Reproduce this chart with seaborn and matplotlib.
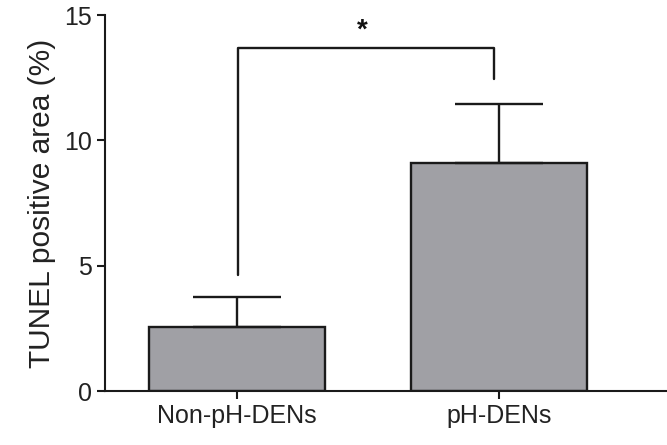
import matplotlib
matplotlib.use("Agg")
import matplotlib.pyplot as plt
import seaborn as sns
import pandas as pd

categories = ["Non-pH-DENs", "pH-DENs"]
means = [2.55, 9.1]
sem_upper = [1.2, 2.35]
yticks = [0, 5, 10, 15]
ylabel = "TUNEL positive area (%)"
sig_label = "*"
bracket_y = 13.67
bracket_left_bottom = 4.65
bracket_right_bottom = 12.45

sns.set_style("ticks")
plt.rcParams["font.family"] = ["Liberation Sans", "DejaVu Sans"]

df = pd.DataFrame({"group": categories, "value": means})

fig = plt.figure(figsize=(6.67, 4.45), dpi=100)
ax = fig.add_axes([0.157, 0.121, 0.843, 0.845])

sns.barplot(data=df, x="group", y="value", color="#a0a0a5", saturation=1,
            width=0.67, edgecolor="#1a1a1a", linewidth=1.7, errorbar=None, ax=ax)

ax.errorbar(range(len(categories)), means, yerr=[[0] * len(means), sem_upper],
            fmt="none", ecolor="#1a1a1a", elinewidth=1.7, capsize=31.5,
            capthick=1.7, zorder=1)

ax.plot([0.003, 0.003, 0.982, 0.982],
        [bracket_left_bottom, bracket_y, bracket_y, bracket_right_bottom],
        color="#1a1a1a", lw=1.7)
ax.text(0.48, bracket_y + 0.2, sig_label, ha="center", va="bottom",
        fontsize=20, fontweight="bold", color="#111111")

ax.set_xlim(-0.504, 1.641)
ax.set_ylim(0, 15)
ax.set_yticks(yticks)
ax.set_yticklabels([str(t) for t in yticks])
ax.set_xlabel("")
ax.set_ylabel(ylabel, fontsize=21.5, color="#222222", labelpad=6)

sns.despine(ax=ax)
for s in ["left", "bottom"]:
    ax.spines[s].set_linewidth(1.5)
    ax.spines[s].set_color("#1a1a1a")
ax.tick_params(axis="both", direction="out", length=6, width=1.5,
               color="#1a1a1a", labelsize=18, labelcolor="#222222", pad=3)

fig.savefig("out.png", dpi=100)
